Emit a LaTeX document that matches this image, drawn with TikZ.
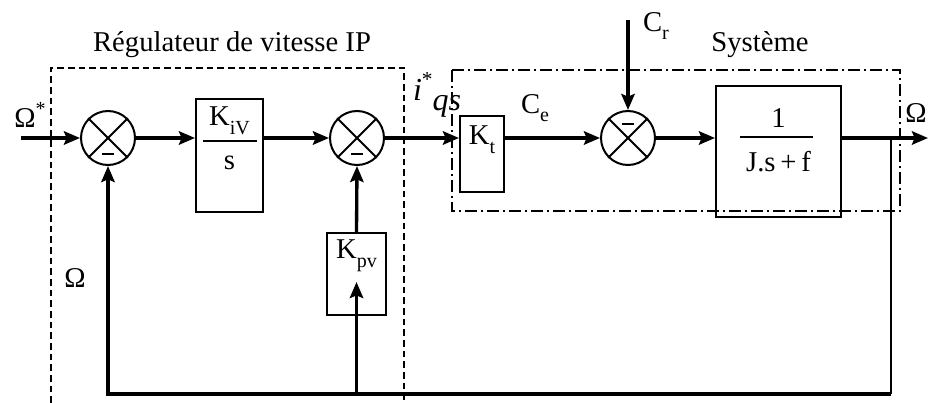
\documentclass[tikz,border=0pt]{standalone}
\usepackage{fontspec}
\setmainfont{Liberation Serif}
\usetikzlibrary{arrows.meta}
\newcommand\lowsub[1]{\raisebox{-0.3em}{\fontsize{15}{15}\selectfont #1}}
\begin{document}
\begin{tikzpicture}[x=0.75pt,y=-0.75pt,
  sig/.style={line width=2.5pt,-{Stealth[length=12pt,width=10pt,inset=2pt]}},
  wire/.style={line width=2.5pt},
  thinwire/.style={line width=1.3pt},
  blk/.style={draw,line width=1.5pt,inner sep=0pt},
  sumnode/.style={draw,circle,line width=1.5pt,minimum size=40.5pt,inner sep=0pt},
  lbl/.style={font=\fontsize{21.5}{24}\selectfont,inner sep=0pt},
  bar/.style={line width=1.5pt},
  regbox/.style={line width=1.2pt,dash pattern=on 5pt off 3pt},
  sysbox/.style={line width=1.2pt,dash pattern=on 9pt off 3pt on 1.5pt off 3pt},
]
\clip (0,0) rectangle (928,403);
\fill[white] (0,0) rectangle (928,403);

% frames
\draw[regbox] (51,403) -- (51,68) -- (404,68) -- (404,403);
\draw[sysbox] (452,70) rectangle (900,211);
\node[lbl] (treg) at (232,45) {Régulateur de vitesse IP};
\node[lbl] (tsys) at (760,45) {Système};

% summing junctions
\node[sumnode] (s1) at (108,138) {};
\node[sumnode] (s2) at (357,138) {};
\node[sumnode] (s3) at (628,138) {};
\foreach \s in {s1,s2,s3}{\draw[line width=1.4pt] (\s.45) -- (\s.225) (\s.135) -- (\s.315);}
\draw[bar] ([xshift=-4.5pt,yshift=-12pt]s1.center) -- ++(9pt,0);
\draw[bar] ([xshift=-4.5pt,yshift=-12pt]s2.center) -- ++(9pt,0);
\draw[bar] ([xshift=-4.5pt,yshift=10.5pt]s3.center) -- ++(9pt,0);

% blocks
\node[blk,minimum width=50.25pt,minimum height=84.75pt] (kiv) at (229.5,155.5) {};
\node[lbl] (kivn) at (229.5,121) {K\lowsub{iV}};
\draw[bar] (203,141) -- (257,141);
\node[lbl] (kivd) at (229.5,163) {s};

\node[blk,minimum width=33pt,minimum height=57pt] (kt) at (482,154) {};
\node[lbl] (ktt) at (482,140) {K\lowsub{t}};

\node[blk,minimum width=44.25pt,minimum height=61.5pt] (kpv) at (356.5,274) {};
\node[lbl] (kpvt) at (356.5,256) {K\lowsub{pv}};

\node[blk,minimum width=93.75pt,minimum height=98.25pt] (tf) at (778.5,151.5) {};
\node[lbl] (tfn) at (778.5,118) {1};
\draw[bar] (740,137) -- (813,137);
\node[lbl] (tfd) at (778.5,162) {J.s\,+\,f};

% coordinates
\coordinate (inp) at (21,138);
\coordinate (outp) at (928,138);
\coordinate (crin) at (628,20);
\coordinate (tap) at (891,138);
\coordinate (fbr) at (891,394);

% signals
\draw[sig] (inp) -- (s1.west);
\draw[sig] (s1.east) -- (s1.east -| kiv.west);
\draw[sig] (s1.east -| kiv.east) -- (s2.west);
\draw[sig] (s2.east) -- (s2.east -| kt.west);
\draw[sig] (s2.east -| kt.east) -- (s3.west);
\draw[sig] (s3.east) -- (s3.east -| tf.west);
\draw[sig] (s3.east -| tf.east) -- (outp);
\draw[sig] (crin) -- (s3.north);
\draw[thinwire] (tap) -- (fbr);
\draw[sig] (fbr) -- (fbr -| s1) -- (s1.south);
\draw[sig] (fbr -| kpv) -- ([yshift=-6pt]kpv.center);
\draw[sig] (kpv.north) -- (s2.south);

% labels
\node[lbl] (lomst) at (30,115) {Ω\raisebox{0.45em}{\fontsize{15}{15}\selectfont *}};
\node[lbl] (lom) at (75,278) {Ω};
\node[lbl,anchor=east] (lomo) at (927,113) {Ω};
\node[lbl] (lcr) at (656,26) {C\lowsub{r}};
\node[lbl] (lce) at (535,108) {C\lowsub{e}};
\node[lbl,font=\fontsize{24}{26}\selectfont] (liqs) at (437,95) {\textit{i}\raisebox{0.45em}{\fontsize{16}{16}\selectfont *}\raisebox{-0.3em}{\textit{qs}}};
\end{tikzpicture}
\end{document}
